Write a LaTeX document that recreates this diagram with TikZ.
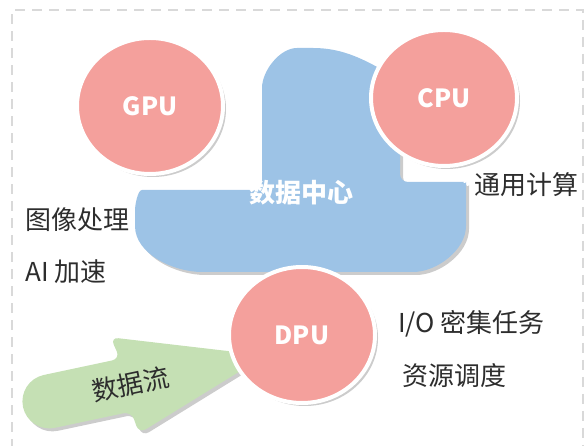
\documentclass[tikz,border=0pt]{standalone}
\usepackage{fontspec}
\setmainfont{Noto Sans CJK SC}
\usetikzlibrary{shapes.geometric, shadows}
\definecolor{chipred}{RGB}{244,160,156}
\definecolor{cloudblue}{RGB}{157,195,230}
\definecolor{flowgreen}{RGB}{197,224,180}
\definecolor{labelgray}{RGB}{45,45,45}
\definecolor{framegray}{RGB}{217,217,217}

\begin{document}
\begin{tikzpicture}[
    x=1pt, y=1pt,
    every node/.style={inner sep=0pt},
    softshadow/.style={
        drop shadow={shadow xshift=3pt, shadow yshift=-3pt, opacity=0.4}
    },
    chip/.style={
        ellipse,
        fill=chipred,
        draw=white,
        line width=4pt,
        minimum width=146pt,
        minimum height=136pt,
        text=white,
        font=\fontsize{25}{29}\selectfont\bfseries,
        softshadow
    },
    tasklabel/.style={
        anchor=west,
        text=labelgray,
        font=\fontsize{26}{30}\selectfont
    },
    framebox/.style={
        draw=framegray,
        line width=2pt,
        dash pattern=on 10pt off 7pt
    }
]
    \useasboundingbox (0,0) rectangle (585,446);

    % Dashed frame
    \draw[framebox] (12,-20) -- (12,436) -- (583,436) -- (583,-20);

    % Data centre cloud
    \path[fill=cloudblue, softshadow, rounded corners=8pt]
        (262,256) -- (150,256) to[out=180, in=90] (135,228)
        to[out=-90, in=180] (210,174) -- (405,174)
        to[out=0, in=-90] (466,228) -- (466,256)
        to[out=90, in=0] (456,264) -- (400,264) -- (400,366)
        to[out=150, in=0] (305,398) to[out=180, in=90] (262,350) -- cycle;
    \node[text=white, font=\fontsize{26}{30}\selectfont\bfseries]
        (centre) at (301,253) {数据中心};

    % Data flow arrow
    \begin{scope}[shift={(23,39)}, rotate=12]
        \path[fill=flowgreen, softshadow]
            (27,-27) arc[start angle=270, end angle=90, radius=27]
            [rounded corners=8pt] -- (105,27) -- (100,50) -- (248,0)
            -- (108,-50) -- (105,-27) [sharp corners] -- cycle;
        \node[rotate=12, text=labelgray, font=\fontsize{26}{30}\selectfont]
            (flow) at (110,0) {数据流};
    \end{scope}

    % Processors
    \node[chip] (gpu) at (150,340) {GPU};
    \node[chip] (cpu) at (444,348) {CPU};
    \node[chip] (dpu) at (302,111) {DPU};

    % Workload labels
    \node[tasklabel] (image) at (25,226) {图像处理};
    \node[tasklabel] (ai) at (25,174) {AI 加速};
    \node[tasklabel] (general) at (474,261) {通用计算};
    \node[tasklabel] (io) at (398,122) {I/O 密集任务};
    \node[tasklabel] (sched) at (402,70) {资源调度};

\end{tikzpicture}
\end{document}
